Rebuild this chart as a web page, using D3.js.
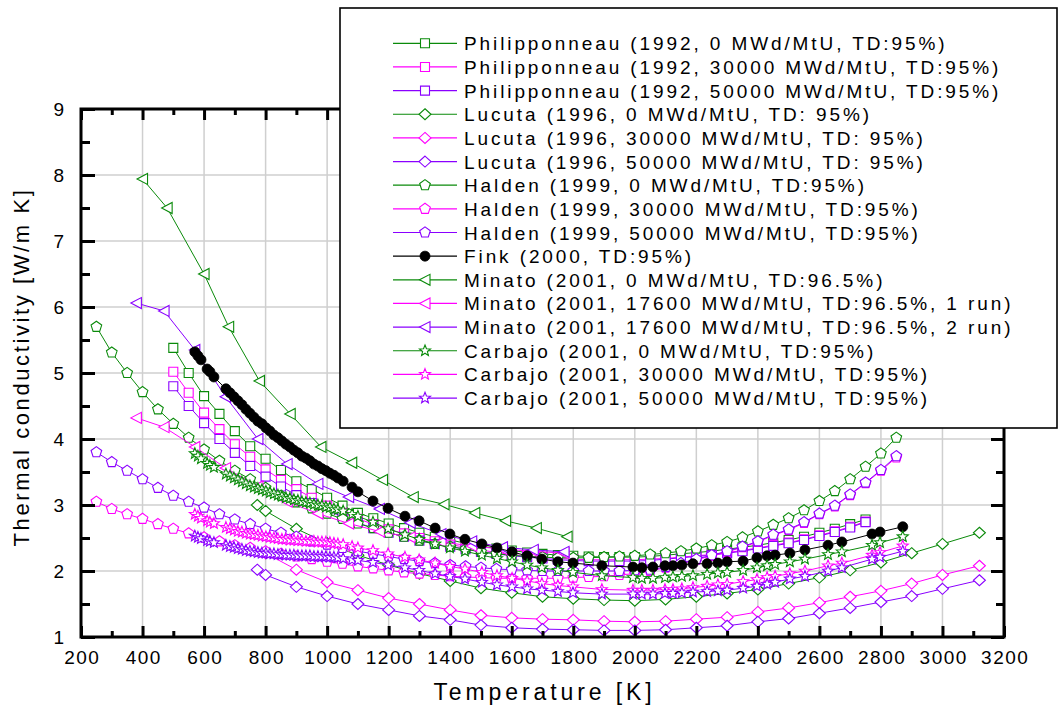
<!DOCTYPE html>
<html>
<head>
<meta charset="utf-8">
<script src="https://cdn.jsdelivr.net/npm/d3@7/dist/d3.min.js"></script>
<style>
  html, body { margin: 0; padding: 0; background: #fff; }
  svg { display: block; font-family: "Liberation Sans", Arial, sans-serif; }
</style>
</head>
<body>
<script>
// ---- Axis ticks ----
const xMajorTicks = [200, 400, 600, 800, 1000, 1200, 1400, 1600, 1800, 2000, 2200, 2400, 2600, 2800, 3000, 3200];
const xMinorTicks = [300, 500, 700, 900, 1100, 1300, 1500, 1700, 1900, 2100, 2300, 2500, 2700, 2900, 3100];
const yMajorTicks = [1, 2, 3, 4, 5, 6, 7, 8, 9];
const yMinorTicks = [1.5, 2.5, 3.5, 4.5, 5.5, 6.5, 7.5, 8.5];

// ---- Philipponneau (1992) ----
const philT = [500, 550, 600, 650, 700, 750, 800, 850, 900, 950, 1000, 1050, 1100, 1150, 1200, 1250, 1300, 1350, 1400, 1450,
  1500, 1550, 1600, 1650, 1700, 1750, 1800, 1850, 1900, 1950, 2000, 2050, 2100, 2150, 2200, 2250, 2300, 2350, 2400, 2450,
  2500, 2550, 2600, 2650, 2700, 2750];
const phil0 = [5.38, 5.00, 4.65, 4.38, 4.12, 3.89, 3.70, 3.53, 3.36, 3.24, 3.11, 2.99, 2.88, 2.80, 2.72, 2.65, 2.58, 2.52, 2.47, 2.42,
  2.38, 2.34, 2.31, 2.28, 2.26, 2.24, 2.23, 2.22, 2.21, 2.21, 2.21, 2.22, 2.24, 2.26, 2.28, 2.30, 2.33, 2.36, 2.39, 2.43,
  2.47, 2.52, 2.58, 2.64, 2.71, 2.78];
const phil30 = [5.02, 4.70, 4.40, 4.15, 3.92, 3.73, 3.54, 3.38, 3.24, 3.11, 2.99, 2.88, 2.79, 2.71, 2.63, 2.57, 2.50, 2.45, 2.40, 2.36,
  2.32, 2.28, 2.25, 2.23, 2.21, 2.19, 2.18, 2.17, 2.17, 2.17, 2.17, 2.18, 2.19, 2.21, 2.23, 2.25, 2.28, 2.31, 2.35, 2.39,
  2.43, 2.48, 2.54, 2.60, 2.67, 2.75];
const phil50 = [4.80, 4.50, 4.24, 4.00, 3.79, 3.59, 3.43, 3.28, 3.15, 3.03, 2.92, 2.82, 2.73, 2.65, 2.58, 2.52, 2.46, 2.41, 2.37, 2.33,
  2.29, 2.26, 2.23, 2.21, 2.19, 2.17, 2.16, 2.15, 2.15, 2.15, 2.15, 2.16, 2.18, 2.20, 2.22, 2.24, 2.27, 2.30, 2.34, 2.38,
  2.42, 2.47, 2.53, 2.59, 2.66, 2.74];

// ---- Lucuta (1996) ----
const lucT = [773, 800, 900, 1000, 1100, 1200, 1300, 1400, 1500, 1600, 1700, 1800, 1900, 2000, 2100, 2200, 2300, 2400, 2500, 2600,
  2700, 2800, 2900, 3000, 3120];
const lucT30 = [800, 900, 1000, 1100, 1200, 1300, 1400, 1500, 1600, 1700, 1800, 1900, 2000, 2100, 2200, 2300, 2400, 2500, 2600,
  2700, 2800, 2900, 3000, 3120];
const luc0 = [3.00, 2.91, 2.64, 2.42, 2.24, 2.09, 1.96, 1.85, 1.74, 1.67, 1.61, 1.58, 1.56, 1.55, 1.57, 1.61, 1.66, 1.72, 1.81, 1.90,
  2.01, 2.13, 2.27, 2.41, 2.58];
const luc30 = [2.27, 2.02, 1.83, 1.71, 1.59, 1.50, 1.41, 1.33, 1.29, 1.27, 1.26, 1.24, 1.23, 1.24, 1.27, 1.30, 1.38, 1.44, 1.52,
  1.61, 1.70, 1.81, 1.94, 2.08];
const luc50 = [2.02, 1.94, 1.76, 1.62, 1.50, 1.41, 1.32, 1.26, 1.18, 1.14, 1.12, 1.11, 1.10, 1.10, 1.11, 1.14, 1.17, 1.23, 1.28, 1.36,
  1.44, 1.53, 1.62, 1.73, 1.86];

// ---- Halden (1999) ----
const haldenT = [250, 300, 350, 400, 450, 500, 550, 600, 650, 700, 750, 800, 850, 900, 950, 1000, 1050, 1100, 1150, 1200,
  1250, 1300, 1350, 1400, 1450, 1500, 1550, 1600, 1650, 1700, 1750, 1800, 1850, 1900, 1950, 2000, 2050, 2100, 2150, 2200,
  2250, 2300, 2350, 2400, 2450, 2500, 2550, 2600, 2650, 2700, 2750, 2800, 2850];
const halden0 = [5.70, 5.31, 5.00, 4.71, 4.45, 4.23, 4.02, 3.84, 3.67, 3.52, 3.39, 3.26, 3.14, 3.04, 2.95, 2.87, 2.79, 2.72, 2.65, 2.58,
  2.52, 2.46, 2.41, 2.37, 2.33, 2.29, 2.26, 2.24, 2.22, 2.21, 2.20, 2.20, 2.20, 2.21, 2.22, 2.23, 2.25, 2.27, 2.30, 2.34,
  2.39, 2.44, 2.51, 2.60, 2.70, 2.80, 2.92, 3.06, 3.21, 3.39, 3.58, 3.78, 4.02];
const halden30 = [3.05, 2.94, 2.86, 2.79, 2.71, 2.64, 2.57, 2.51, 2.45, 2.39, 2.35, 2.30, 2.26, 2.22, 2.18, 2.14, 2.11, 2.07, 2.04, 2.01,
  1.98, 1.96, 1.94, 1.92, 1.91, 1.90, 1.89, 1.89, 1.89, 1.89, 1.89, 1.90, 1.91, 1.92, 1.94, 1.96, 2.00, 2.05, 2.11, 2.17,
  2.23, 2.29, 2.36, 2.44, 2.54, 2.62, 2.73, 2.86, 2.98, 3.15, 3.33, 3.52, 3.72];
const halden50 = [3.80, 3.65, 3.52, 3.39, 3.26, 3.14, 3.05, 2.96, 2.86, 2.78, 2.71, 2.64, 2.58, 2.52, 2.45, 2.40, 2.35, 2.30, 2.26, 2.22,
  2.18, 2.15, 2.12, 2.09, 2.07, 2.05, 2.03, 2.02, 2.01, 2.00, 2.00, 2.00, 2.00, 2.00, 2.00, 2.01, 2.02, 2.06, 2.12, 2.18,
  2.24, 2.30, 2.37, 2.45, 2.55, 2.63, 2.74, 2.87, 2.99, 3.16, 3.34, 3.53, 3.74];

// ---- Fink (2000) and Carbajo (2001), same temperature grid ----
const finkT = [570, 580, 590, 610, 619, 632, 671, 684, 697, 710, 723, 736, 749, 762, 775, 788, 801, 814, 827, 840,
  853, 866, 879, 892, 905, 918, 931, 944, 957, 970, 983, 996, 1009, 1022, 1035, 1052, 1081, 1100, 1149, 1198,
  1253, 1299, 1351, 1399, 1448, 1503, 1552, 1601, 1650, 1698, 1750, 1799, 1893, 1994, 2023, 2059, 2098, 2124, 2153, 2189,
  2235, 2270, 2300, 2352, 2397, 2430, 2456, 2504, 2553, 2628, 2673, 2771, 2797, 2871];
const fink = [5.32, 5.26, 5.20, 5.06, 5.02, 4.94, 4.76, 4.70, 4.64, 4.58, 4.52, 4.45, 4.39, 4.33, 4.27, 4.23, 4.17, 4.12, 4.06, 4.02,
  3.97, 3.92, 3.88, 3.83, 3.79, 3.74, 3.71, 3.67, 3.62, 3.59, 3.55, 3.52, 3.48, 3.45, 3.41, 3.36, 3.27, 3.20, 3.06, 2.95,
  2.83, 2.76, 2.65, 2.56, 2.48, 2.41, 2.35, 2.29, 2.23, 2.18, 2.14, 2.12, 2.08, 2.06, 2.05, 2.06, 2.08, 2.08, 2.09, 2.11,
  2.11, 2.12, 2.14, 2.15, 2.20, 2.23, 2.24, 2.27, 2.32, 2.39, 2.44, 2.56, 2.59, 2.67];
const carbajo0 = [3.78, 3.74, 3.70, 3.63, 3.60, 3.57, 3.47, 3.44, 3.41, 3.38, 3.35, 3.32, 3.29, 3.27, 3.25, 3.23, 3.21, 3.19, 3.17, 3.15,
  3.13, 3.11, 3.10, 3.08, 3.07, 3.05, 3.04, 3.03, 3.01, 3.00, 2.99, 2.97, 2.96, 2.94, 2.93, 2.91, 2.86, 2.83, 2.74, 2.64,
  2.55, 2.48, 2.41, 2.35, 2.30, 2.24, 2.19, 2.14, 2.09, 2.05, 2.01, 1.98, 1.93, 1.90, 1.89, 1.89, 1.90, 1.91, 1.92, 1.93,
  1.95, 1.97, 1.98, 2.01, 2.05, 2.08, 2.10, 2.14, 2.18, 2.25, 2.29, 2.39, 2.43, 2.52];
const carbajo30 = [2.86, 2.83, 2.80, 2.76, 2.74, 2.72, 2.66, 2.64, 2.62, 2.60, 2.59, 2.57, 2.56, 2.55, 2.54, 2.53, 2.52, 2.51, 2.50, 2.49,
  2.48, 2.48, 2.47, 2.47, 2.46, 2.46, 2.45, 2.45, 2.45, 2.44, 2.44, 2.44, 2.43, 2.42, 2.41, 2.40, 2.37, 2.35, 2.31, 2.26,
  2.21, 2.17, 2.12, 2.07, 2.03, 1.98, 1.93, 1.89, 1.85, 1.81, 1.78, 1.76, 1.72, 1.71, 1.71, 1.71, 1.72, 1.72, 1.73, 1.75,
  1.77, 1.79, 1.80, 1.84, 1.87, 1.90, 1.92, 1.96, 2.00, 2.08, 2.12, 2.24, 2.28, 2.38];
const carbajo50 = [2.53, 2.51, 2.49, 2.46, 2.45, 2.43, 2.39, 2.37, 2.36, 2.34, 2.33, 2.31, 2.30, 2.29, 2.28, 2.27, 2.27, 2.26, 2.26, 2.25,
  2.25, 2.24, 2.24, 2.24, 2.23, 2.23, 2.23, 2.23, 2.22, 2.22, 2.22, 2.22, 2.21, 2.21, 2.20, 2.19, 2.17, 2.16, 2.13, 2.09,
  2.05, 2.01, 1.96, 1.92, 1.88, 1.83, 1.79, 1.76, 1.73, 1.71, 1.69, 1.67, 1.65, 1.65, 1.65, 1.65, 1.66, 1.66, 1.67, 1.68,
  1.69, 1.70, 1.71, 1.74, 1.77, 1.80, 1.83, 1.88, 1.92, 2.00, 2.05, 2.18, 2.21, 2.30];

// ---- Minato (2001) ----
const minatoT0 = [400, 480, 600, 680, 780, 880, 980, 1080, 1180, 1280, 1380, 1480, 1580, 1680, 1780];
const minatoT = [380, 470, 570, 670, 775, 870, 970, 1070, 1170, 1270, 1370, 1470, 1570, 1670, 1770];
const minato0 = [7.94, 7.50, 6.50, 5.70, 4.88, 4.38, 3.88, 3.64, 3.38, 3.12, 3.01, 2.88, 2.76, 2.65, 2.52];
const minatoRun1 = [4.32, 4.18, 3.88, 3.56, 3.28, 3.05, 2.87, 2.72, 2.60, 2.51, 2.44, 2.38, 2.33, 2.30, 2.27];
const minatoRun2 = [6.06, 5.94, 5.35, 4.64, 4.00, 3.62, 3.32, 3.12, 2.94, 2.73, 2.56, 2.45, 2.36, 2.32, 2.29];

// ---- Legend labels ----
const legendLabels = [
  "Philipponneau (1992, 0 MWd/MtU, TD:95%)",
  "Philipponneau (1992, 30000 MWd/MtU, TD:95%)",
  "Philipponneau (1992, 50000 MWd/MtU, TD:95%)",
  "Lucuta (1996, 0 MWd/MtU, TD: 95%)",
  "Lucuta (1996, 30000 MWd/MtU, TD: 95%)",
  "Lucuta (1996, 50000 MWd/MtU, TD: 95%)",
  "Halden (1999, 0 MWd/MtU, TD:95%)",
  "Halden (1999, 30000 MWd/MtU, TD:95%)",
  "Halden (1999, 50000 MWd/MtU, TD:95%)",
  "Fink (2000, TD:95%)",
  "Minato (2001, 0 MWd/MtU, TD:96.5%)",
  "Minato (2001, 17600 MWd/MtU, TD:96.5%, 1 run)",
  "Minato (2001, 17600 MWd/MtU, TD:96.5%, 2 run)",
  "Carbajo (2001, 0 MWd/MtU, TD:95%)",
  "Carbajo (2001, 30000 MWd/MtU, TD:95%)",
  "Carbajo (2001, 50000 MWd/MtU, TD:95%)"
];

const GREEN = "#0a8a0a", MAGENTA = "#ff00ff", PURPLE = "#8a00ff", BLACK = "#000";

// series table, in legend order
const series = [
  { T: philT, v: phil0, color: GREEN, sym: "square" },
  { T: philT, v: phil30, color: MAGENTA, sym: "square" },
  { T: philT, v: phil50, color: PURPLE, sym: "square" },
  { T: lucT, v: luc0, color: GREEN, sym: "diamond" },
  { T: lucT30, v: luc30, color: MAGENTA, sym: "diamond" },
  { T: lucT, v: luc50, color: PURPLE, sym: "diamond" },
  { T: haldenT, v: halden0, color: GREEN, sym: "pentagon" },
  { T: haldenT, v: halden30, color: MAGENTA, sym: "pentagon" },
  { T: haldenT, v: halden50, color: PURPLE, sym: "pentagon" },
  { T: finkT, v: fink, color: BLACK, sym: "dot" },
  { T: minatoT0, v: minato0, color: GREEN, sym: "triLeft" },
  { T: minatoT, v: minatoRun1, color: MAGENTA, sym: "triLeft" },
  { T: minatoT, v: minatoRun2, color: PURPLE, sym: "triLeft" },
  { T: finkT, v: carbajo0, color: GREEN, sym: "star" },
  { T: finkT, v: carbajo30, color: MAGENTA, sym: "star" },
  { T: finkT, v: carbajo50, color: PURPLE, sym: "star" }
].map((s, i) => ({ ...s, label: legendLabels[i] }));

// marker outlines centred on the origin
function polygon(n, R, rot) {
  const pts = [];
  for (let i = 0; i < n; i++) {
    const a = rot + i * 2 * Math.PI / n;
    pts.push([R * Math.cos(a), R * Math.sin(a)]);
  }
  return "M" + pts.map(p => p[0].toFixed(2) + "," + p[1].toFixed(2)).join("L") + "Z";
}
function starPath(R, r) {
  const pts = [];
  for (let i = 0; i < 10; i++) {
    const a = -Math.PI / 2 + i * Math.PI / 5;
    const rad = i % 2 ? r : R;
    pts.push([rad * Math.cos(a), rad * Math.sin(a)]);
  }
  return "M" + pts.map(p => p[0].toFixed(2) + "," + p[1].toFixed(2)).join("L") + "Z";
}
const symbolPaths = {
  square: "M-4.5,-4.5H4.5V4.5H-4.5Z",
  diamond: "M0,-5.5L6,0L0,5.5L-6,0Z",
  pentagon: polygon(5, 5.6, -Math.PI / 2),
  triLeft: "M-5.5,0L5,-5.5L5,5.5Z",
  star: starPath(5.8, 2.5)
};
function drawMarker(g, sym, color) {
  if (sym === "dot") {
    g.append("circle").attr("r", 5).attr("fill", BLACK).attr("stroke", BLACK).attr("stroke-width", 0.8);
  } else {
    g.append("path").attr("d", symbolPaths[sym]).attr("fill", "#fff")
      .attr("stroke", color).attr("stroke-width", 1.1).attr("stroke-linejoin", "miter");
  }
}

// ---- Layout ----
const W = 1059, H = 710;
const pLeft = 81, pRight = 1004, pTop = 109, pBottom = 637;

const x = d3.scaleLinear().domain([200, 3200]).range([pLeft, pRight]);
const y = d3.scaleLinear().domain([1, 9]).range([pBottom, pTop]);

const svg = d3.select("body").append("svg").attr("width", W).attr("height", H);

// grid
const grid = svg.append("g").attr("stroke", "#cfcfcf").attr("stroke-width", 1.5);
grid.selectAll("line.v").data(xMajorTicks.slice(1, -1)).join("line").attr("class", "v")
  .attr("x1", d => x(d)).attr("x2", d => x(d)).attr("y1", pTop).attr("y2", pBottom);
grid.selectAll("line.h").data(yMajorTicks.slice(1, -1)).join("line").attr("class", "h")
  .attr("x1", pLeft).attr("x2", pRight).attr("y1", d => y(d)).attr("y2", d => y(d));

// data
svg.append("defs").append("clipPath").attr("id", "plotClip")
  .append("rect").attr("x", pLeft).attr("y", pTop).attr("width", pRight - pLeft).attr("height", pBottom - pTop);
const plot = svg.append("g").attr("clip-path", "url(#plotClip)");

const drawOrder = [0, 1, 2, 3, 4, 5, 6, 7, 8, 10, 11, 12, 9, 13, 14, 15];
const line = d3.line().x(d => x(d[0])).y(d => y(d[1]));
drawOrder.forEach(i => {
  const s = series[i];
  const pts = s.T.map((t, k) => [t, s.v[k]]);
  const g = plot.append("g");
  g.append("path").attr("d", line(pts)).attr("fill", "none")
    .attr("stroke", s.color).attr("stroke-width", 1);
  g.selectAll("g.m").data(pts).join("g").attr("class", "m")
    .attr("transform", d => `translate(${x(d[0])},${y(d[1])})`)
    .each(function () { drawMarker(d3.select(this), s.sym, s.color); });
});

// axes (ticks pointing inward)
const fontTick = "19px";
const axB = svg.append("g").attr("transform", `translate(0,${pBottom})`)
  .call(d3.axisBottom(x).tickValues(xMajorTicks).tickSize(-11).tickSizeOuter(0).tickPadding(13.5)
    .tickFormat(d3.format("d")));
axB.selectAll("text").attr("font-size", fontTick).attr("font-family", "Liberation Sans, Arial, sans-serif")
  .attr("fill", "#000").style("letter-spacing", "1.5px").attr("dx", "0.75");
svg.append("g").attr("transform", `translate(0,${pBottom})`)
  .call(d3.axisBottom(x).tickValues(xMinorTicks).tickSize(-6).tickSizeOuter(0).tickFormat(""));

const axL = svg.append("g").attr("transform", `translate(${pLeft},0)`)
  .call(d3.axisLeft(y).tickValues(yMajorTicks).tickSize(-14).tickSizeOuter(0).tickPadding(17).tickFormat(d3.format("d")));
axL.selectAll("text").attr("font-size", fontTick).attr("font-family", "Liberation Sans, Arial, sans-serif").attr("fill", "#000");
svg.append("g").attr("transform", `translate(${pLeft},0)`)
  .call(d3.axisLeft(y).tickValues(yMinorTicks).tickSize(-9).tickSizeOuter(0).tickFormat(""));

svg.append("g").attr("transform", `translate(0,${pTop})`)
  .call(d3.axisTop(x).tickValues(xMajorTicks).tickSize(-11).tickSizeOuter(0).tickFormat(""));
svg.append("g").attr("transform", `translate(0,${pTop})`)
  .call(d3.axisTop(x).tickValues(xMinorTicks).tickSize(-6).tickSizeOuter(0).tickFormat(""));
svg.append("g").attr("transform", `translate(${pRight},0)`)
  .call(d3.axisRight(y).tickValues(yMajorTicks).tickSize(-13).tickSizeOuter(0).tickFormat(""));
svg.append("g").attr("transform", `translate(${pRight},0)`)
  .call(d3.axisRight(y).tickValues(yMinorTicks).tickSize(-8).tickSizeOuter(0).tickFormat(""));

svg.selectAll(".domain").remove();
svg.selectAll(".tick line").attr("stroke", "#000").attr("stroke-width", 3);

// frame
svg.append("rect").attr("x", pLeft).attr("y", pTop).attr("width", pRight - pLeft).attr("height", pBottom - pTop)
  .attr("fill", "none").attr("stroke", "#000").attr("stroke-width", 3);

// axis titles
svg.append("text").attr("x", (pLeft + pRight) / 2 + 2).attr("y", 700)
  .attr("text-anchor", "middle").attr("font-size", "23px").style("letter-spacing", "3.9px")
  .text("Temperature [K]");
svg.append("text").attr("transform", "translate(29,367) rotate(-90)")
  .attr("text-anchor", "middle").attr("font-size", "22px").style("letter-spacing", "2.6px")
  .text("Thermal conductivity [W/m K]");

// legend
const lg = svg.append("g");
lg.append("rect").attr("x", 340).attr("y", 8).attr("width", 717).attr("height", 420)
  .attr("fill", "#fff").attr("stroke", "#000").attr("stroke-width", 1.6);
series.forEach((s, i) => {
  const ry = 43.3 + i * 23.65;
  const row = lg.append("g").attr("transform", `translate(0,${ry})`);
  row.append("line").attr("x1", 393).attr("x2", 457).attr("y1", 0).attr("y2", 0)
    .attr("stroke", s.color).attr("stroke-width", 1.2);
  const m = row.append("g").attr("transform", "translate(425,0)");
  drawMarker(m, s.sym, s.color);
  row.append("text").attr("x", 464).attr("y", 7).attr("font-size", "19px")
    .style("letter-spacing", "2.9px").attr("fill", "#000").text(s.label);
});
</script>
</body>
</html>
